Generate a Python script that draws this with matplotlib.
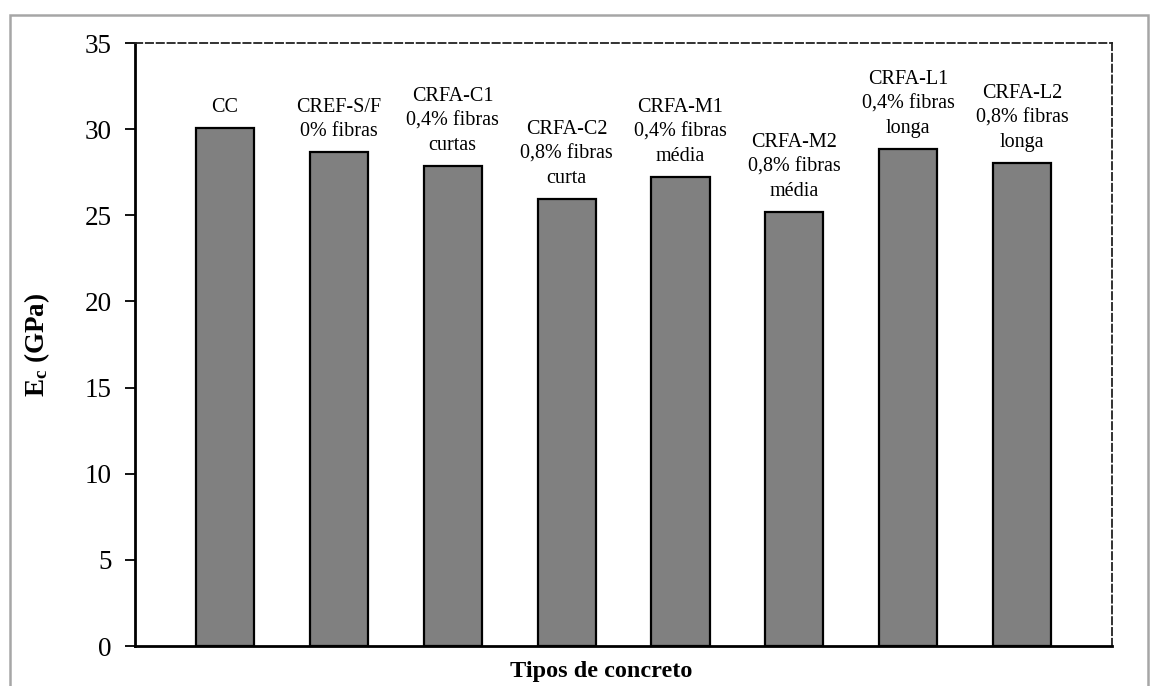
import matplotlib
matplotlib.use("Agg")
import matplotlib.pyplot as plt
from matplotlib.patches import Rectangle

plt.rcParams['font.family'] = ['Liberation Serif', 'DejaVu Serif']
plt.rcParams['mathtext.fontset'] = 'custom'
plt.rcParams['mathtext.rm'] = 'Liberation Serif'
plt.rcParams['mathtext.bf'] = 'Liberation Serif:bold'
plt.rcParams['mathtext.it'] = 'Liberation Serif:italic'

# Modulus of elasticity per concrete mix
categories = ["CC", "CREF-S/F", "CRFA-C1", "CRFA-C2", "CRFA-M1", "CRFA-M2", "CRFA-L1", "CRFA-L2"]
descriptions = ["", "0% fibras", "0,4% fibras\ncurtas", "0,8% fibras\ncurta",
                "0,4% fibras\nmédia", "0,8% fibras\nmédia", "0,4% fibras\nlonga", "0,8% fibras\nlonga"]
ec_gpa = [30.06, 28.67, 27.87, 25.94, 27.22, 25.19, 28.85, 28.03]
y_ticks = [0, 5, 10, 15, 20, 25, 30, 35]

fig = plt.figure(figsize=(11.5, 6.86), dpi=100)
ax = fig.add_axes([0.1174, 0.0583, 0.8496, 0.8790])

x = list(range(len(categories)))
ax.bar(x, ec_gpa, width=0.51, color='#808080', edgecolor='black', linewidth=1.6, zorder=3)

for xi, name, desc, v in zip(x, categories, descriptions, ec_gpa):
    label = name if not desc else name + "\n" + desc
    ax.annotate(label, xy=(xi, v), xytext=(0, 8), textcoords='offset points',
                ha='center', va='bottom', fontsize=14.5, linespacing=1.38)

ax.set_xlim(-0.79, 7.79)
ax.set_ylim(0, 35)
ax.set_yticks(y_ticks)
ax.tick_params(axis='y', direction='out', length=7, width=1.3, labelsize=19.5, pad=10)
ax.set_xticks([])

for side in ('left', 'bottom'):
    ax.spines[side].set_linewidth(2)
    ax.spines[side].set_color('black')
for side in ('top', 'right'):
    ax.spines[side].set_linewidth(1.3)
    ax.spines[side].set_linestyle((0, (4, 2)))
    ax.spines[side].set_color('#222222')

ax.set_ylabel(r'$\mathbf{E_c}$ (GPa)', fontsize=19.5, fontweight='bold')
ax.set_xlabel('Tipos de concreto', fontsize=17.5, fontweight='bold')
ax.xaxis.set_label_coords(0.477, -0.025)
ax.yaxis.set_label_coords(-0.085, 0.5)

# Outer chart frame
fig.patches.append(Rectangle((10 / 1150, -0.05), 1138 / 1150, 1 - 15 / 686 + 0.05,
                             transform=fig.transFigure, fill=False,
                             edgecolor='#a6a6a6', linewidth=1.8))

fig.savefig('out.png', dpi=100)
